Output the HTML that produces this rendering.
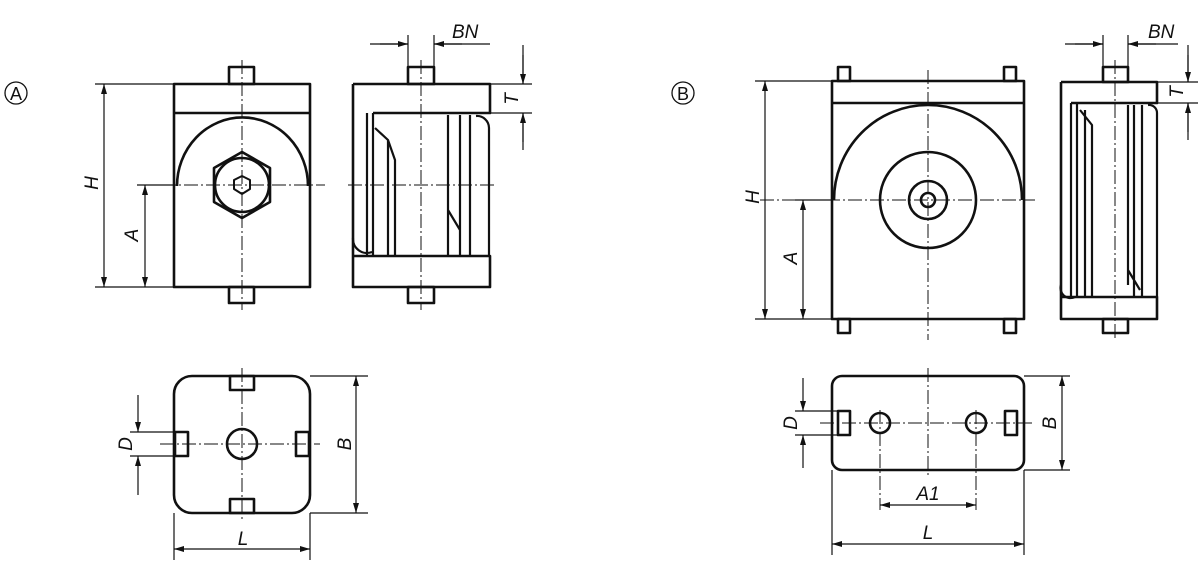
<!DOCTYPE html><html><head><style>body{margin:0;background:#fff}svg{display:block}text{font-family:"Liberation Sans Narrow","Liberation Sans",sans-serif;font-style:italic;font-size:19px;fill:#111}</style></head><body>
<svg width="1200" height="566" viewBox="0 0 1200 566" xmlns="http://www.w3.org/2000/svg">
<defs><marker id="a" viewBox="0 0 10 6" refX="10" refY="3" markerWidth="10" markerHeight="6" orient="auto-start-reverse" markerUnits="userSpaceOnUse"><path d="M0,0L10,3L0,6z" fill="#111"/></marker></defs>
<g fill="none" stroke="#111" stroke-width="2.6" stroke-linejoin="round">
<rect x="229" y="67" width="25" height="17"/><rect x="229" y="287" width="25" height="16"/>
<rect x="174" y="84" width="136" height="203"/><line x1="174" y1="113" x2="310" y2="113"/>
<path d="M177,186 A65,68 0 0 1 308,186"/>
<polygon points="242,152 270,168 270,202 242,218 214,202 214,168"/><circle cx="242" cy="185" r="27"/>
<polygon points="242,176 250,180 250,189 242,194 234,189 234,180" stroke-width="2"/>
<rect x="408" y="67" width="26" height="17"/><rect x="408" y="287" width="26" height="16"/>
<path d="M353,84H490V113H373"/><path d="M353,84V287H490V256H353"/>
<path d="M367,113V256M373,113V256M375,128L388,140V256M388,140L395,160V256M448,115V255M448,210L460,230V256M460,115V240M470,115V256M476,116A12,12 0 0 1 489,128V256M353,238A14,14 0 0 0 372,252" stroke-width="2.2"/>
<rect x="174" y="376" width="136" height="137" rx="18"/>
<circle cx="242" cy="444" r="15"/>
<rect x="230" y="376" width="24" height="14"/><rect x="230" y="499" width="24" height="14"/>
<rect x="175" y="432" width="13" height="24"/><rect x="296" y="432" width="13" height="24"/>
<rect x="838" y="67" width="12" height="14"/><rect x="1004" y="67" width="12" height="14"/>
<rect x="838" y="319" width="12" height="14"/><rect x="1004" y="319" width="12" height="14"/>
<rect x="832" y="81" width="192" height="238"/><line x1="832" y1="103" x2="1024" y2="103"/>
<path d="M834,200 A94,95 0 0 1 1022,200"/>
<circle cx="928" cy="200" r="48"/><circle cx="928" cy="200" r="19"/><circle cx="928" cy="200" r="7"/>
<rect x="1103" y="67" width="25" height="15"/><rect x="1103" y="319" width="25" height="14"/>
<path d="M1061,82H1157V103H1071M1061,82V319H1157V297H1061"/>
<path d="M1071,103V297M1077,103V297M1080,110L1092,125V297M1085,110V297M1128,105V285M1128,270L1140,290M1134,105V297M1142,105V297M1148,105A8,8 0 0 1 1157,113V297M1061,285A10,10 0 0 0 1075,297" stroke-width="2.2"/>
<rect x="832" y="376" width="192" height="94" rx="10"/>
<circle cx="880" cy="423" r="10"/><circle cx="976" cy="423" r="10"/>
<rect x="838" y="411" width="12" height="24"/><rect x="1005" y="411" width="12" height="24"/>
<circle cx="16" cy="93" r="11" stroke-width="1.3"/><circle cx="683" cy="93" r="11" stroke-width="1.3"/>
</g>
<g stroke="#111" stroke-width="1" stroke-dasharray="14 3 2 3" fill="none">
<path d="M242,60V310M140,185H325M421,60V310M348,185H495M242,368V520M160,444H320"/>
<path d="M928,70V340M760,200H1035M1115,60V340M928,368V478M820,423H1035M880,410V510M976,410V510"/>
</g>
<g stroke="#111" stroke-width="1.2" fill="none">
<path d="M95,84H174M95,287H174M137,185H174"/>
<path d="M104,84V287" marker-start="url(#a)" marker-end="url(#a)"/>
<path d="M145,185V287" marker-start="url(#a)" marker-end="url(#a)"/>
<path d="M408,35V67M434,35V67M370,44H408M434,44H490" />
<path d="M380,44H408" marker-end="url(#a)"/><path d="M462,44H434" marker-end="url(#a)"/>
<path d="M490,84H532M490,113H532M523,45V84M523,150V113" />
<path d="M523,55V84" marker-end="url(#a)"/><path d="M523,142V113" marker-end="url(#a)"/>
<path d="M174,513V560M310,513V560M310,376H368M310,513H368M130,432H175M130,456H175"/>
<path d="M174,549H310" marker-start="url(#a)" marker-end="url(#a)"/>
<path d="M356,376V513" marker-start="url(#a)" marker-end="url(#a)"/>
<path d="M138,395V432" marker-end="url(#a)"/><path d="M138,495V456" marker-end="url(#a)"/>
<path d="M755,81H832M755,319H832M795,200H832"/>
<path d="M765,81V319" marker-start="url(#a)" marker-end="url(#a)"/>
<path d="M803,200V319" marker-start="url(#a)" marker-end="url(#a)"/>
<path d="M1103,35V67M1128,35V67M1065,44H1103M1128,44H1178"/>
<path d="M1075,44H1103" marker-end="url(#a)"/><path d="M1156,44H1128" marker-end="url(#a)"/>
<path d="M1157,82H1198M1157,103H1198M1188,45V82M1188,140V103"/>
<path d="M1188,55V82" marker-end="url(#a)"/><path d="M1188,132V103" marker-end="url(#a)"/>
<path d="M795,411H838M795,435H838M1024,376H1070M1024,470H1070M832,470V555M1024,470V555"/>
<path d="M803,378V411" marker-end="url(#a)"/><path d="M803,468V435" marker-end="url(#a)"/>
<path d="M1062,376V470" marker-start="url(#a)" marker-end="url(#a)"/>
<path d="M880,505H976" marker-start="url(#a)" marker-end="url(#a)"/>
<path d="M832,544H1024" marker-start="url(#a)" marker-end="url(#a)"/>
</g>
<text x="452" y="38">BN</text><text x="1148" y="38">BN</text>
<text transform="translate(518,99) rotate(-90)" text-anchor="middle">T</text>
<text transform="translate(1183,92) rotate(-90)" text-anchor="middle">T</text>
<text transform="translate(98,183) rotate(-90)" text-anchor="middle">H</text>
<text transform="translate(138,235) rotate(-90)" text-anchor="middle">A</text>
<text transform="translate(132,444) rotate(-90)" text-anchor="middle">D</text>
<text transform="translate(351,444) rotate(-90)" text-anchor="middle">B</text>
<text x="243" y="545" text-anchor="middle">L</text>
<text transform="translate(759,197) rotate(-90)" text-anchor="middle">H</text>
<text transform="translate(797,258) rotate(-90)" text-anchor="middle">A</text>
<text transform="translate(797,423) rotate(-90)" text-anchor="middle">D</text>
<text transform="translate(1056,423) rotate(-90)" text-anchor="middle">B</text>
<text x="928" y="500" text-anchor="middle">A1</text>
<text x="928" y="539" text-anchor="middle">L</text>
<text x="16" y="100" text-anchor="middle" style="font-style:normal;font-size:18px">A</text>
<text x="683" y="100" text-anchor="middle" style="font-style:normal;font-size:18px">B</text>
</svg></body></html>
